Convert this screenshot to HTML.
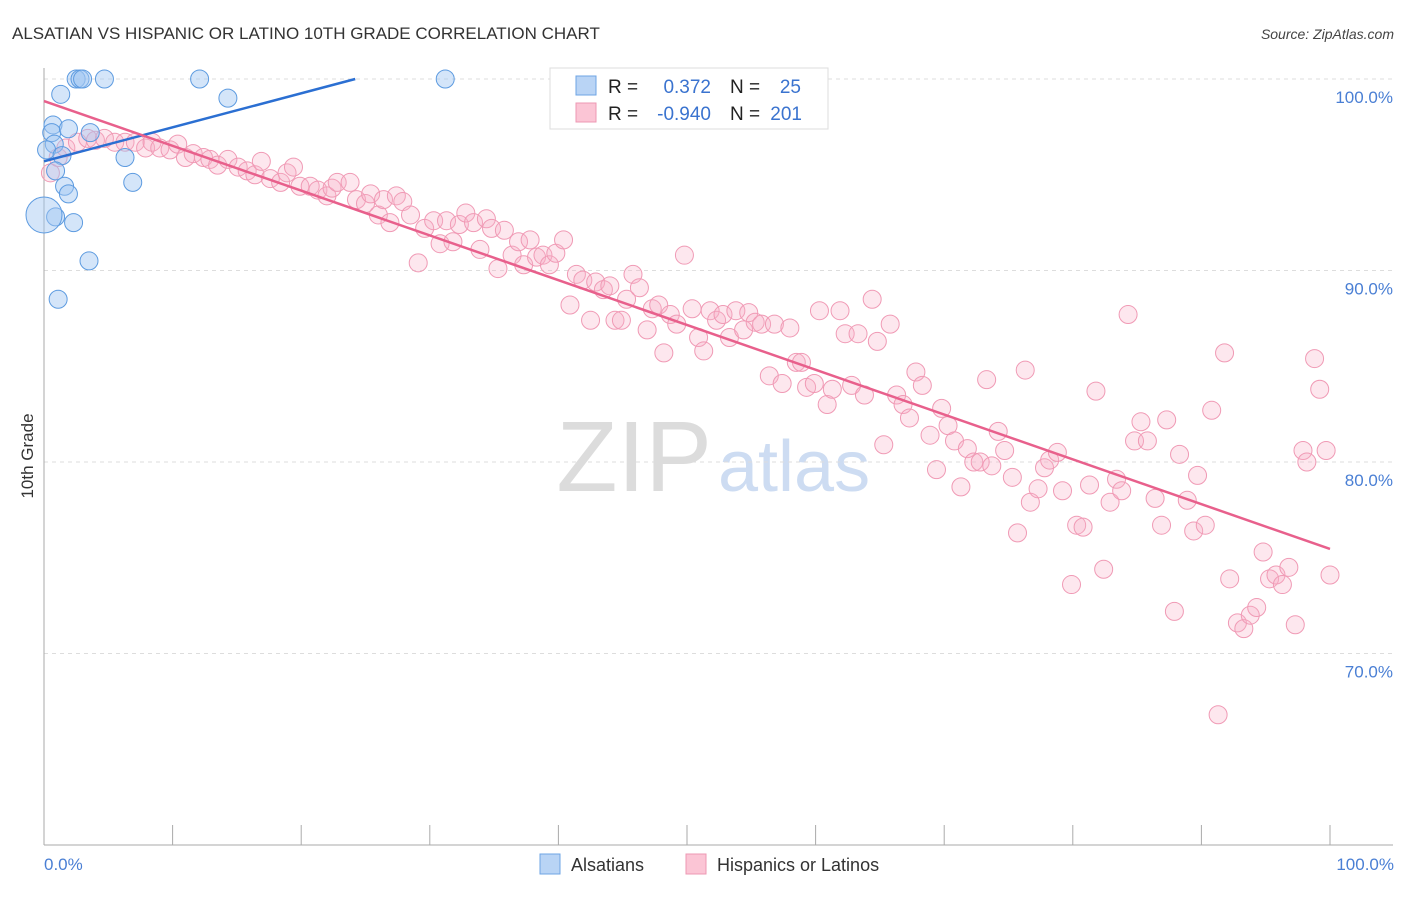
<!DOCTYPE html>
<html><head><meta charset="utf-8"><style>
body{margin:0;background:#fff;font-family:"Liberation Sans",sans-serif;}
svg text{font-family:"Liberation Sans",sans-serif;}
</style></head><body>
<svg id="chart" width="1406" height="892" viewBox="0 0 1406 892" xmlns="http://www.w3.org/2000/svg">
<text x="12" y="39" font-size="17" fill="#333">ALSATIAN VS HISPANIC OR LATINO 10TH GRADE CORRELATION CHART</text>
<text x="1394" y="39" font-size="14" fill="#444" text-anchor="end" font-style="italic">Source: ZipAtlas.com</text>
<text x="712" y="491" font-size="100" text-anchor="end" fill="#dcdcdc" font-family="Liberation Serif">ZIP</text>
<text x="718" y="491" font-size="72" fill="#cddcf2">atlas</text>
<g id="grid"></g>
<g id="axes"></g>
<g id="points"></g>
<g id="lines"></g>
<text transform="translate(33,456) rotate(-90)" font-size="17" fill="#333" text-anchor="middle">10th Grade</text>
<text x="44" y="870" font-size="17" fill="#4a7fd4">0.0%</text>
<text x="1394" y="870" font-size="17" fill="#4a7fd4" text-anchor="end">100.0%</text>
<g>
<rect x="550" y="68" width="278" height="61" fill="#fff" stroke="#ddd"/>
<rect x="576" y="76" width="20" height="19" fill="#b9d4f5" stroke="#6ea4e4"/>
<rect x="576" y="103" width="20" height="19" fill="#fbc5d5" stroke="#ee98b3"/>
<text x="608" y="93" font-size="19" fill="#222">R =</text>
<text x="711" y="93" font-size="19" fill="#3a73cf" text-anchor="end">0.372</text>
<text x="730" y="93" font-size="19" fill="#222">N =</text>
<text x="801" y="93" font-size="19" fill="#3a73cf" text-anchor="end">25</text>
<text x="608" y="120" font-size="19" fill="#222">R =</text>
<text x="711" y="120" font-size="19" fill="#3a73cf" text-anchor="end">-0.940</text>
<text x="730" y="120" font-size="19" fill="#222">N =</text>
<text x="802" y="120" font-size="19" fill="#3a73cf" text-anchor="end">201</text>
</g>
<g>
<rect x="540" y="854" width="20" height="20" fill="#b9d4f5" stroke="#6ea4e4"/>
<text x="571" y="871" font-size="18" fill="#333">Alsatians</text>
<rect x="686" y="854" width="20" height="20" fill="#fbc5d5" stroke="#ee98b3"/>
<text x="717" y="871" font-size="18" fill="#333">Hispanics or Latinos</text>
</g>
</svg>
<script>
const yTicks=[100,90,80,70];
const yTickLabels=["100.0%","90.0%","80.0%","70.0%"];
const xTicks=[0,10,20,30,40,50,60,70,80,90,100];
const blueX=[2.5,2.8,3.0,4.7,12.1,31.2,1.3,14.3,0.7,0.6,1.9,3.6,0.8,0.2,1.4,6.3,0.9,1.6,1.9,6.9,0.9,2.3,0,3.5,1.1];
const blueY=[100,100,100,100,100,100,99.2,99.0,97.6,97.2,97.4,97.2,96.6,96.3,96.0,95.9,95.2,94.4,94.0,94.6,92.8,92.5,92.9,90.5,88.5];
const blueR=[9,9,9,9,9,9,9,9,9,9,9,9,9,9,9,9,9,9,9,9,9,9,18,9,9];
const pinkX=[0.5,1.1,1.7,2.6,3.4,4.0,4.7,5.5,6.3,7.1,7.9,8.4,9.0,9.8,10.4,11.0,11.6,12.4,12.9,13.5,14.3,15.1,15.8,16.4,16.9,17.6,18.4,18.9,19.4,19.9,20.7,21.3,22.0,22.4,22.8,23.8,24.3,25.0,25.4,26.0,26.4,26.9,27.4,27.9,28.5,29.1,29.6,30.3,30.8,31.3,31.8,32.3,32.8,33.4,33.9,34.4,34.8,35.3,35.8,36.4,36.9,37.3,37.8,38.3,38.8,39.3,39.8,40.4,40.9,41.4,41.9,42.5,42.9,43.5,44.0,44.4,44.9,45.3,45.8,46.3,46.9,47.3,47.8,48.2,48.7,49.2,49.8,50.4,50.9,51.3,51.8,52.3,52.8,53.3,53.8,54.4,54.8,55.3,55.8,56.4,56.8,57.4,58.0,58.5,58.9,59.3,59.9,60.3,60.9,61.3,61.9,62.3,62.8,63.3,63.8,64.4,64.8,65.3,65.8,66.3,66.8,67.3,67.8,68.3,68.9,69.4,69.8,70.3,70.8,71.3,71.8,72.3,72.8,73.3,73.7,74.2,74.7,75.3,75.7,76.3,76.7,77.3,77.8,78.2,78.8,79.2,79.9,80.3,80.8,81.3,81.8,82.4,82.9,83.4,83.8,84.3,84.8,85.3,85.8,86.4,86.9,87.3,87.9,88.3,88.9,89.4,89.7,90.3,90.8,91.3,91.8,92.2,92.8,93.3,93.8,94.3,94.8,95.3,95.8,96.3,96.8,97.3,97.9,98.2,98.8,99.2,99.7,100];
const pinkY=[95.1,95.9,96.4,96.7,96.9,96.8,96.9,96.7,96.7,96.7,96.4,96.7,96.4,96.3,96.6,95.9,96.1,95.9,95.8,95.5,95.8,95.4,95.2,95.0,95.7,94.8,94.6,95.1,95.4,94.4,94.4,94.2,93.9,94.3,94.6,94.6,93.7,93.5,94.0,92.9,93.7,92.5,93.9,93.6,92.9,90.4,92.2,92.6,91.4,92.6,91.5,92.4,93.0,92.5,91.1,92.7,92.2,90.1,92.1,90.8,91.5,90.3,91.6,90.7,90.8,90.3,90.9,91.6,88.2,89.8,89.5,87.4,89.4,89.0,89.2,87.4,87.4,88.5,89.8,89.1,86.9,88.0,88.2,85.7,87.7,87.2,90.8,88.0,86.5,85.8,87.9,87.4,87.7,86.5,87.9,86.9,87.8,87.3,87.2,84.5,87.2,84.1,87.0,85.2,85.2,83.9,84.1,87.9,83.0,83.8,87.9,86.7,84.0,86.7,83.5,88.5,86.3,80.9,87.2,83.5,83.0,82.3,84.7,84.0,81.4,79.6,82.8,81.9,81.1,78.7,80.7,80.0,80.0,84.3,79.8,81.6,80.6,79.2,76.3,84.8,77.9,78.6,79.7,80.1,80.5,78.5,73.6,76.7,76.6,78.8,83.7,74.4,77.9,79.1,78.5,87.7,81.1,82.1,81.1,78.1,76.7,82.2,72.2,80.4,78.0,76.4,79.3,76.7,82.7,66.8,85.7,73.9,71.6,71.3,72.0,72.4,75.3,73.9,74.1,73.6,74.5,71.5,80.6,80.0,85.4,83.8,80.6,74.1];
const blueLine=[[0,95.7],[24.2,100]];
const pinkLine=[[0,98.85],[100,75.46]];

const NS="http://www.w3.org/2000/svg";
const X0=44,X1=1330,Y100=79,PX10=191.5;
function sx(v){return X0+(X1-X0)*v/100;}
function sy(v){return Y100+(100-v)*PX10/10;}
function mk(tag,attrs,parent){const e=document.createElementNS(NS,tag);for(const k in attrs)e.setAttribute(k,attrs[k]);parent.appendChild(e);return e;}
const grid=document.getElementById('grid'),axes=document.getElementById('axes'),pts=document.getElementById('points'),lines=document.getElementById('lines');
yTicks.forEach((t,i)=>{
 const l=mk('line',{x1:X0,x2:1393,y1:sy(t),y2:sy(t),stroke:'#ddd','stroke-dasharray':'4,4'},grid);
 
 
 const tx=mk('text',{x:1393,y:sy(t)+24,'font-size':17,fill:'#4a7fd4','text-anchor':'end'},grid);
 tx.textContent=yTickLabels[i];
 
 
});
const ya=mk('line',{x1:X0,x2:X0,y1:68,y2:845,stroke:'#aaa'},axes);


const xa=mk('line',{x1:X0,x2:1393,y1:845,y2:845,stroke:'#aaa'},axes);


xTicks.forEach(t=>{
 const l=mk('line',{x1:sx(t),x2:sx(t),y1:825,y2:845,stroke:'#aaa'},axes);
 
 
});
pinkX.forEach((x,i)=>{
 const c=mk('circle',{cx:sx(x),cy:sy(pinkY[i]),r:9,fill:'rgba(248,175,198,0.3)',stroke:'#f09ab5','stroke-width':1},pts);
 
 
});
blueX.forEach((x,i)=>{
 const c=mk('circle',{cx:sx(x),cy:sy(blueY[i]),r:blueR[i],fill:'rgba(160,198,242,0.45)',stroke:'#5d9be0','stroke-width':1},pts);
 
 
});
const bl=mk('line',{x1:sx(blueLine[0][0]),y1:sy(blueLine[0][1]),x2:sx(blueLine[1][0]),y2:sy(blueLine[1][1]),stroke:'#2b6fd2','stroke-width':2.5},lines);


const pl=mk('line',{x1:sx(pinkLine[0][0]),y1:sy(pinkLine[0][1]),x2:sx(pinkLine[1][0]),y2:sy(pinkLine[1][1]),stroke:'#e8608c','stroke-width':2.5},lines);


</script>
</body></html>
